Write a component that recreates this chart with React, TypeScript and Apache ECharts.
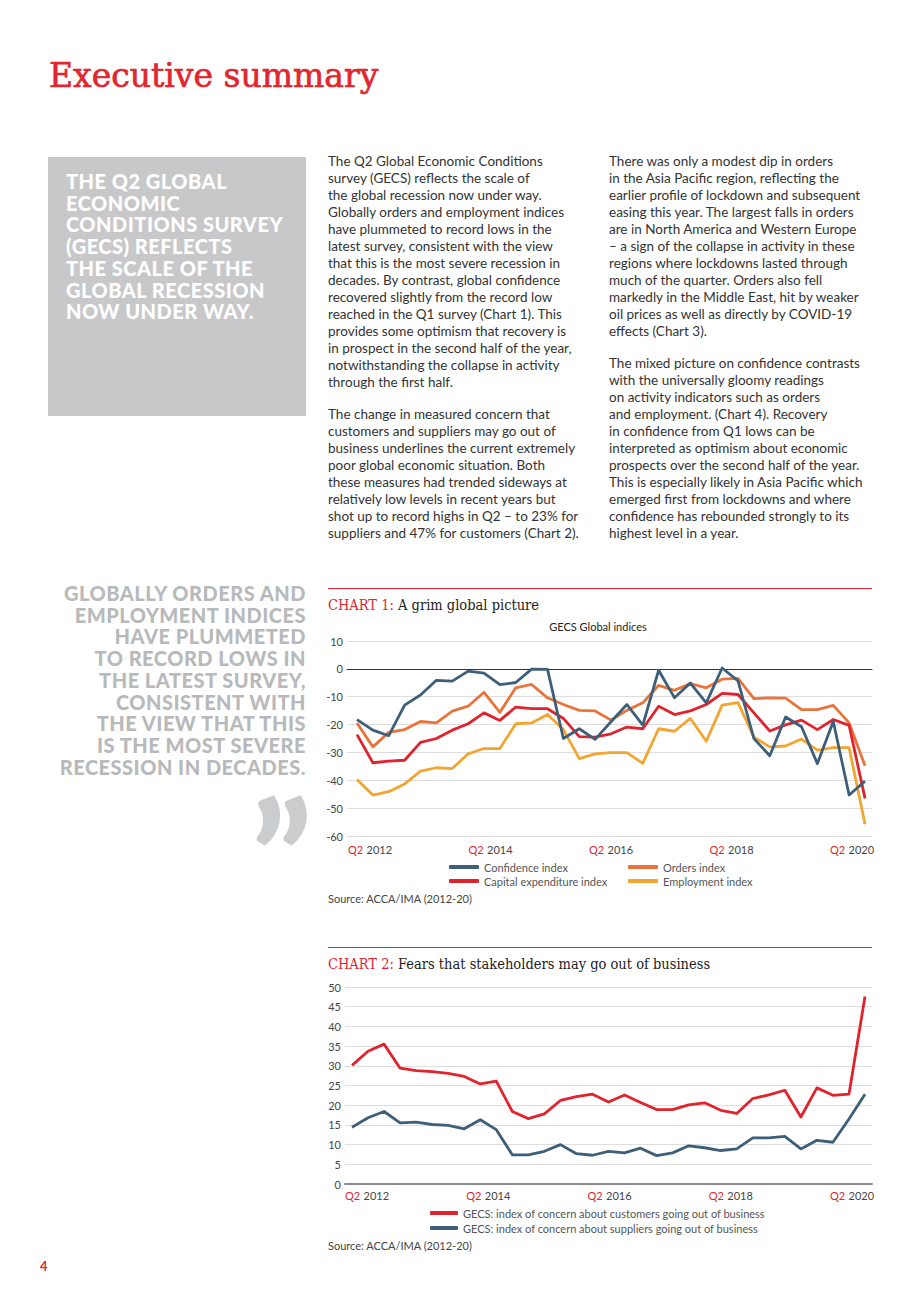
import React, { useEffect, useRef } from "react";
import * as echarts from "echarts";

// ---------- DATA ----------
const quarters = [
  "Q2 2012", "Q3 2012", "Q4 2012", "Q1 2013", "Q2 2013", "Q3 2013", "Q4 2013", "Q1 2014",
  "Q2 2014", "Q3 2014", "Q4 2014", "Q1 2015", "Q2 2015", "Q3 2015", "Q4 2015", "Q1 2016",
  "Q2 2016", "Q3 2016", "Q4 2016", "Q1 2017", "Q2 2017", "Q3 2017", "Q4 2017", "Q1 2018",
  "Q2 2018", "Q3 2018", "Q4 2018", "Q1 2019", "Q2 2019", "Q3 2019", "Q4 2019", "Q1 2020",
  "Q2 2020",
];
const tickLabels = ["Q2 2012", "Q2 2014", "Q2 2016", "Q2 2018", "Q2 2020"];

const confidence = [-18.2, -22, -24, -13, -9.4, -4.1, -4.4, -0.8, -1.5, -5.7, -4.9, -0.1, -0.2, -25, -21.5, -25.3, -19, -12.8, -20.2, -0.5, -10.4, -5.1, -12.2, 0.3, -4.3, -25, -31.2, -17.3, -20.8, -34, -18.9, -45.3, -40.3];
const capex = [-23.6, -33.7, -33.1, -32.8, -26.4, -25, -22, -19.7, -15.8, -18.5, -13.7, -14.3, -14.3, -17.8, -24.3, -24.5, -23.3, -20.9, -21.5, -13.4, -16.4, -15.1, -12.8, -8.8, -9.2, -15.8, -22.3, -20.1, -18.4, -21.8, -18.2, -20.3, -46.5];
const orders = [-19.4, -28, -22.8, -21.8, -18.9, -19.4, -15.2, -13.4, -8.4, -15.6, -6.8, -5.6, -10.4, -12.8, -14.9, -15.1, -18.4, -14.9, -12.2, -5.9, -7.7, -5.3, -6.8, -3.7, -3.4, -10.7, -10.4, -10.5, -14.6, -14.6, -13.1, -19.4, -34.8];
const employment = [-39.7, -45.3, -44.1, -41.3, -36.7, -35.5, -35.8, -30.5, -28.6, -28.6, -19.7, -19.4, -16.4, -21.8, -32.2, -30.5, -30.1, -30.1, -33.9, -21.5, -22.4, -17.8, -26, -13, -12.1, -24.5, -28, -27.7, -25.2, -29.2, -28.3, -28.3, -55.8];

const customers = [30.1, 33.7, 35.5, 29.4, 28.8, 28.5, 28.1, 27.3, 25.4, 26.1, 18.4, 16.6, 17.8, 21.2, 22.2, 22.8, 20.8, 22.6, 20.7, 18.9, 18.9, 20.1, 20.6, 18.7, 17.9, 21.7, 22.6, 23.8, 17, 24.4, 22.5, 22.8, 47.6];
const suppliers = [14.4, 16.8, 18.4, 15.5, 15.7, 15.1, 14.9, 14, 16.3, 13.8, 7.4, 7.4, 8.3, 10, 7.7, 7.3, 8.3, 7.9, 9.1, 7.2, 7.9, 9.7, 9.2, 8.5, 8.9, 11.7, 11.7, 12.1, 8.9, 11.1, 10.6, 16.5, 22.8];

// ---------- STYLE ----------
const RED = "#e2262f";
const BLUE = "#3d5f7a";
const ORANGE = "#e8743b";
const YELLOW = "#f2a531";
const LINE_RED = "#e0232d";
const SANS = "Lato, 'Noto Sans', sans-serif";
const SLAB = "'DejaVu Serif Condensed', 'DejaVu Serif', serif";

const pairs = (arr: number[]) => quarters.map((_, i) => [i, arr[i]]);

function labelAxis(min: number, max: number, margin: number) {
  return {
    type: "value",
    min,
    max,
    position: "bottom",
    axisLine: { show: false, onZero: false },
    axisTick: { show: false },
    splitLine: { show: false },
    axisLabel: {
      show: true,
      margin,
      customValues: tickLabels.map((_, i) => i),
      formatter: (v: number) => {
        const t = tickLabels[Math.round(v)] || "";
        const [q, y] = t.split(" ");
        return `{q|${q}} {y|${y}}`;
      },
      rich: {
        q: { color: RED, fontSize: 11, fontFamily: SANS },
        y: { color: "#444", fontSize: 11, fontFamily: SANS },
      },
    },
  };
}

const lineSeries = (name: string, arr: number[], color: string) => ({
  name,
  type: "line",
  data: pairs(arr),
  symbol: "none",
  color,
  lineStyle: { color, width: 2.8, join: "round" },
  xAxisIndex: 0,
  yAxisIndex: 0,
});

const legendBase = {
  orient: "vertical",
  icon: "roundRect",
  itemWidth: 30,
  itemHeight: 4,
  padding: 0,
  selectedMode: false,
  textStyle: { fontSize: 11, color: "#555", fontFamily: SANS, lineHeight: 14 },
};

const titleRich = {
  a: { color: RED, fontSize: 14.5, fontFamily: SLAB, fontWeight: "normal" },
  b: { color: "#222", fontSize: 14.5, fontFamily: SLAB, fontWeight: "normal" },
};

const chart1Option = {
  animation: false,
  title: [
    {
      text: "{a|CHART 1:}{b| A grim global picture}",
      left: 8,
      top: 17,
      padding: 0,
      textStyle: { fontWeight: "normal", rich: titleRich },
    },
    {
      text: "GECS Global indices",
      left: 278,
      top: 41,
      padding: 0,
      textAlign: "center",
      textStyle: { fontSize: 11, fontWeight: "normal", color: "#222", fontFamily: SANS },
    },
  ],
  graphic: [
    { type: "line", shape: { x1: 8, y1: 8.5, x2: 552, y2: 8.5 }, style: { stroke: RED, lineWidth: 1 } },
    {
      type: "text",
      x: 8,
      y: 318,
      style: { text: "Source: ACCA/IMA (2012-20)", fill: "#444", font: `11px ${SANS}`, verticalAlign: "middle" },
    },
  ],
  legend: [
    { ...legendBase, left: 129, top: 280, itemGap: 0, data: ["Confidence index", "Capital expenditure index"] },
    { ...legendBase, left: 308, top: 280, itemGap: 0, data: ["Orders index", "Employment index"] },
  ],
  grid: { left: 27, right: 18, top: 61, height: 195 },
  xAxis: [
    {
      type: "value",
      min: -0.63,
      max: 32.44,
      axisLine: { show: true, onZero: true, lineStyle: { color: "#333", width: 1 } },
      axisTick: { show: false },
      axisLabel: { show: false },
      splitLine: { show: false },
    },
    labelAxis(-0.1909, 4.1659, 7),
  ],
  yAxis: {
    type: "value",
    min: -60,
    max: 10,
    interval: 10,
    axisLine: { show: false },
    axisTick: { show: false },
    axisLabel: { fontSize: 11, color: "#444", fontFamily: SANS, margin: 4 },
    splitLine: { lineStyle: { color: "#dedede", width: 1 } },
  },
  series: [
    lineSeries("Employment index", employment, YELLOW),
    lineSeries("Orders index", orders, ORANGE),
    lineSeries("Capital expenditure index", capex, LINE_RED),
    lineSeries("Confidence index", confidence, BLUE),
  ],
};

const chart2Option = {
  animation: false,
  title: [
    {
      text: "{a|CHART 2:}{b| Fears that stakeholders may go out of business}",
      left: 8,
      top: 16,
      padding: 0,
      textStyle: { fontWeight: "normal", rich: titleRich },
    },
  ],
  graphic: [
    { type: "line", shape: { x1: 8, y1: 7.5, x2: 552, y2: 7.5 }, style: { stroke: RED, lineWidth: 1 } },
    {
      type: "text",
      x: 8,
      y: 305,
      style: { text: "Source: ACCA/IMA (2012-20)", fill: "#444", font: `11px ${SANS}`, verticalAlign: "middle" },
    },
  ],
  legend: [
    {
      ...legendBase,
      itemWidth: 28,
      left: 110,
      top: 266,
      itemGap: 1,
      data: [
        "GECS: index of concern about customers going out of business",
        "GECS: index of concern about suppliers going out of business",
      ],
    },
  ],
  grid: { left: 25, right: 18, top: 47, height: 197 },
  xAxis: [
    {
      type: "value",
      min: -0.437,
      max: 32.437,
      axisLine: { show: true, onZero: true, lineStyle: { color: "#8a8a8a", width: 2 } },
      axisTick: { show: false },
      axisLabel: { show: false },
      splitLine: { show: false },
    },
    labelAxis(-0.1815, 4.1649, 5),
  ],
  yAxis: {
    type: "value",
    min: 0,
    max: 50,
    interval: 5,
    axisLine: { show: false },
    axisTick: { show: false },
    axisLabel: { fontSize: 11, color: "#444", fontFamily: SANS, margin: 4 },
    splitLine: { lineStyle: { color: "#dedede", width: 1 } },
  },
  series: [
    lineSeries("GECS: index of concern about suppliers going out of business", suppliers, BLUE),
    lineSeries("GECS: index of concern about customers going out of business", customers, LINE_RED),
  ],
};

function EChart({ option, style }: { option: any; style: React.CSSProperties }) {
  const ref = useRef<HTMLDivElement>(null);
  useEffect(() => {
    if (!ref.current) return;
    const c = echarts.init(ref.current, null, { renderer: "svg" });
    c.setOption(option);
    return () => c.dispose();
  }, [option]);
  return <div ref={ref} style={style} />;
}

// ---------- TEXT ----------
const boxLines = [
  "THE Q2 GLOBAL",
  "ECONOMIC",
  "CONDITIONS SURVEY",
  "(GECS) REFLECTS",
  "THE SCALE OF THE",
  "GLOBAL RECESSION",
  "NOW UNDER WAY.",
];
const quoteLines = [
  "GLOBALLY ORDERS AND",
  "EMPLOYMENT INDICES",
  "HAVE PLUMMETED",
  "TO RECORD LOWS IN",
  "THE LATEST SURVEY,",
  "CONSISTENT WITH",
  "THE VIEW THAT THIS",
  "IS THE MOST SEVERE",
  "RECESSION IN DECADES.",
];
const col1a = [
  "The Q2 Global Economic Conditions",
  "survey (GECS) reflects the scale of",
  "the global recession now under way.",
  "Globally orders and employment indices",
  "have plummeted to record lows in the",
  "latest survey, consistent with the view",
  "that this is the most severe recession in",
  "decades. By contrast, global confidence",
  "recovered slightly from the record low",
  "reached in the Q1 survey (Chart 1). This",
  "provides some optimism that recovery is",
  "in prospect in the second half of the year,",
  "notwithstanding the collapse in activity",
  "through the first half.",
];
const col1b = [
  "The change in measured concern that",
  "customers and suppliers may go out of",
  "business underlines the current extremely",
  "poor global economic situation. Both",
  "these measures had trended sideways at",
  "relatively low levels in recent years but",
  "shot up to record highs in Q2 – to 23% for",
  "suppliers and 47% for customers (Chart 2).",
];
const col2a = [
  "There was only a modest dip in orders",
  "in the Asia Pacific region, reflecting the",
  "earlier profile of lockdown and subsequent",
  "easing this year. The largest falls in orders",
  "are in North America and Western Europe",
  "– a sign of the collapse in activity in these",
  "regions where lockdowns lasted through",
  "much of the quarter. Orders also fell",
  "markedly in the Middle East, hit by weaker",
  "oil prices as well as directly by COVID-19",
  "effects (Chart 3).",
];
const col2b = [
  "The mixed picture on confidence contrasts",
  "with the universally gloomy readings",
  "on activity indicators such as orders",
  "and employment. (Chart 4). Recovery",
  "in confidence from Q1 lows can be",
  "interpreted as optimism about economic",
  "prospects over the second half of the year.",
  "This is especially likely in Asia Pacific which",
  "emerged first from lockdowns and where",
  "confidence has rebounded strongly to its",
  "highest level in a year.",
];

const bodyStyle = (left: number, top: number): React.CSSProperties => ({
  position: "absolute",
  left,
  top,
  fontFamily: SANS,
  fontSize: 13.5,
  lineHeight: "17px",
  color: "#333",
  whiteSpace: "pre",
});

const bigCaps: React.CSSProperties = {
  position: "absolute",
  fontFamily: SANS,
  fontWeight: 900,
  fontSize: 20,
  letterSpacing: 0.5,
  lineHeight: "21.7px",
  whiteSpace: "pre",
};

export default function App() {
  return (
    <div style={{ position: "absolute", left: 0, top: 0, width: 920, height: 1302, background: "#fff", overflow: "hidden" }}>
      <div
        style={{
          position: "absolute",
          left: 49,
          top: 59,
          fontFamily: "'DejaVu Serif', serif",
          fontWeight: 400,
          fontSize: 33,
          lineHeight: "33px",
          color: RED,
          whiteSpace: "pre",
          WebkitTextStroke: `0.7px ${RED}`,
        }}
      >
        Executive summary
      </div>

      <div style={{ position: "absolute", left: 48, top: 157, width: 258, height: 259, background: "#c8c8ca" }} />
      <div style={{ ...bigCaps, left: 66, top: 171, color: "#fff" }}>{boxLines.join("\n")}</div>

      <div style={bodyStyle(328, 153)}>{col1a.join("\n")}</div>
      <div style={bodyStyle(328, 406)}>{col1b.join("\n")}</div>
      <div style={bodyStyle(609, 153)}>{col2a.join("\n")}</div>
      <div style={bodyStyle(609, 355)}>{col2b.join("\n")}</div>

      <div style={{ ...bigCaps, right: 920 - 306, top: 583, color: "#b8b9bb", textAlign: "right" }}>
        {quoteLines.join("\n")}
      </div>
      <div
        style={{
          position: "absolute",
          right: 920 - 312,
          top: 778,
          fontFamily: SANS,
          fontWeight: 900,
          fontSize: 155,
          lineHeight: "155px",
          color: "#cbcccd",
          textAlign: "right",
        }}
      >
        ”
      </div>

      <EChart option={chart1Option} style={{ position: "absolute", left: 320, top: 580, width: 570, height: 332 }} />
      <EChart option={chart2Option} style={{ position: "absolute", left: 320, top: 940, width: 570, height: 316 }} />

      <div
        style={{
          position: "absolute",
          left: 40,
          top: 1258,
          fontFamily: SANS,
          fontWeight: 700,
          fontSize: 13,
          lineHeight: "16px",
          color: RED,
        }}
      >
        4
      </div>
    </div>
  );
}
